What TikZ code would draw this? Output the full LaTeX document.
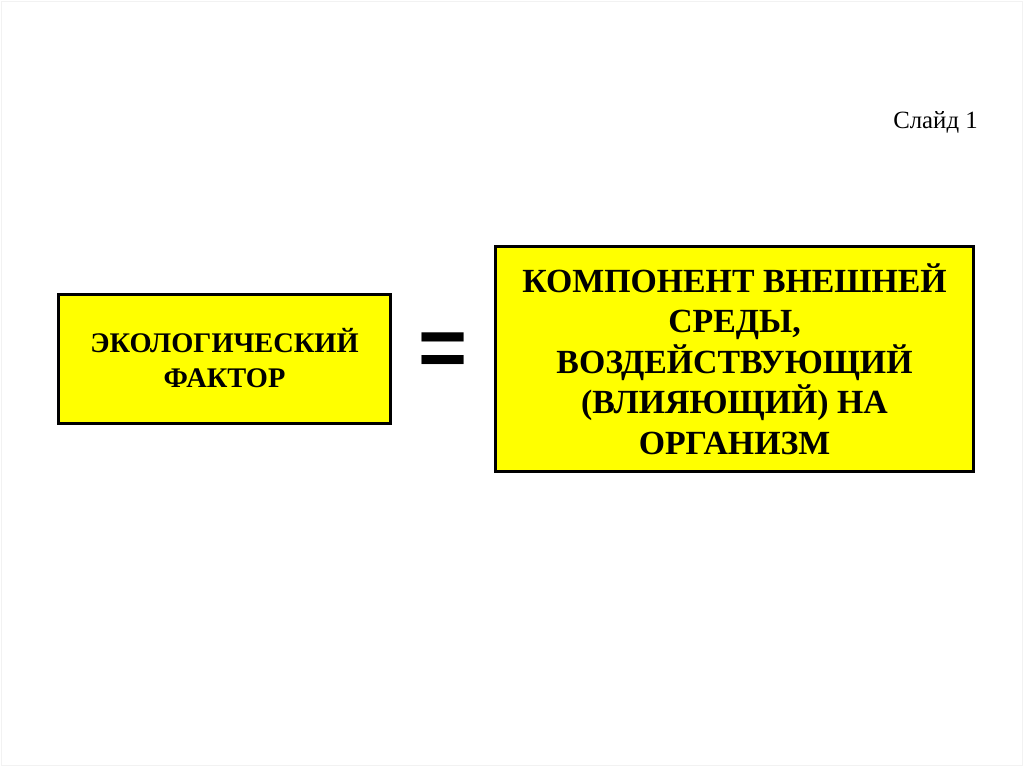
\documentclass[tikz,border=0pt]{standalone}
\usepackage{fontspec}
\setmainfont{Liberation Serif}
\newfontfamily\eqfont{Liberation Sans}
\usetikzlibrary{positioning}
\definecolor{boxyellow}{RGB}{255,255,0}

\begin{document}
\begin{tikzpicture}[x=1pt,y=-1pt,{yellowbox/.style={rectangle,draw=black,fill=boxyellow,line width=3pt,inner sep=0pt,align=center}},{slideframe/.style={color=black!5,line width=0.8pt}}]
		%%page
		\useasboundingbox [fill=white] (0,0) rectangle (1024,767);
		\draw [slideframe] (1.5,1.5) rectangle (1022.5,765.5);
		%%slide number
		\node at (935.5,122) [font=\fontsize{24.8}{29}\selectfont] (slide) {Слайд 1};
		%%left box
		\node at (224.5,358.5) [yellowbox,minimum width=332pt,minimum height=129pt,font=\bfseries\fontsize{28.4}{35}\selectfont] (factor)
			{ЭКОЛОГИЧЕСКИЙ\\ ФАКТОР};
		%%equals sign
		\node at (443.5,355) [inner sep=0pt,font=\eqfont\bfseries\fontsize{84}{84}\selectfont] (equals) {=};
		%%right box
		\node at (734.5,359) [yellowbox,minimum width=478pt,minimum height=225pt,font=\bfseries\fontsize{33.8}{40.6}\selectfont] (component)
			{КОМПОНЕНТ ВНЕШНЕЙ\\ СРЕДЫ,\\ ВОЗДЕЙСТВУЮЩИЙ\\ (ВЛИЯЮЩИЙ) НА\\ ОРГАНИЗМ};
	\end{tikzpicture}
\end{document}
